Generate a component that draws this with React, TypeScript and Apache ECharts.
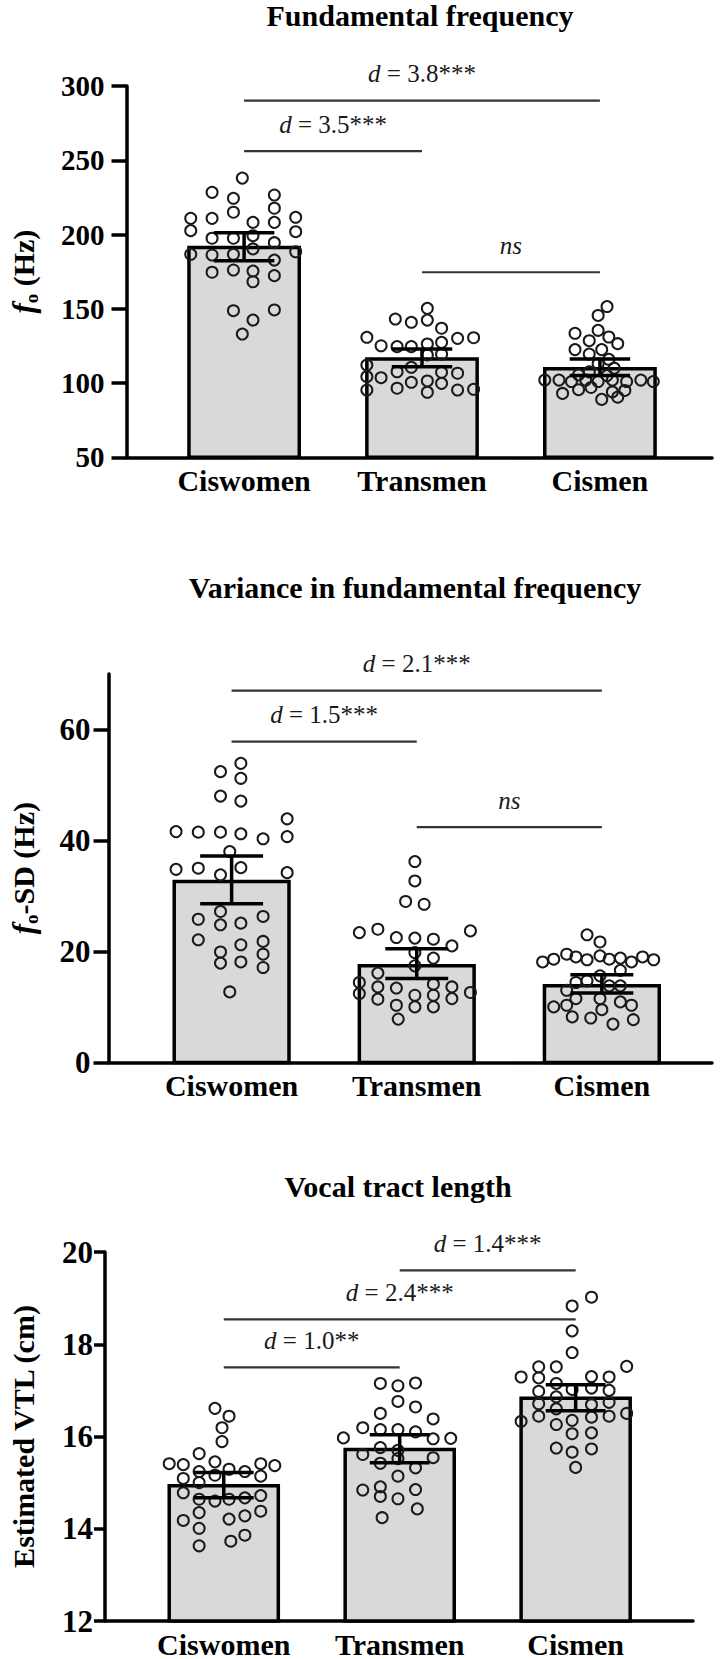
import React, { useEffect, useRef } from 'react';
import * as echarts from 'echarts';

const CATEGORIES = ['Ciswomen', 'Transmen', 'Cismen'];

// ---------------- Panel 1: Fundamental frequency ----------------
const F0_TITLE = 'Fundamental frequency';
const F0_AXIS = { min: 50, max: 300, interval: 50 };
const F0_MEAN = [191.3, 116.2, 109.6];
const F0_ERR_LOW = [182.4, 111.0, 105.0];
const F0_ERR_HIGH = [201.2, 122.9, 116.2];
const F0_CISWOMEN = [238.0, 228.4, 226.6, 224.4, 217.7, 215.0, 210.9, 210.9, 211.6, 208.2, 208.2, 202.6, 201.9, 197.5, 197.5, 199.2, 194.5, 190.3, 186.7, 186.2, 186.7, 188.4, 182.8, 174.6, 176.1, 175.4, 172.3, 168.2, 148.7, 149.2, 142.4, 133.0];
const F0_CISWOMEN_JITTER = [-0.01, -0.18, 0.17, -0.06, 0.17, -0.06, -0.30, -0.18, 0.29, 0.05, 0.17, -0.30, 0.29, -0.18, -0.06, 0.05, 0.17, 0.05, -0.30, -0.18, -0.06, 0.29, 0.17, -0.18, -0.06, 0.05, 0.17, 0.05, -0.06, 0.17, 0.05, -0.01];
const F0_TRANSMEN = [150.3, 143.1, 140.9, 142.4, 136.9, 130.8, 130.1, 130.5, 125.1, 124.5, 124.5, 126.3, 127.4, 118.9, 119.4, 112.1, 110.6, 104.3, 103.6, 107.6, 107.2, 106.6, 100.5, 101.4, 99.8, 95.3, 96.5, 93.8, 95.3, 95.8];
const F0_TRANSMEN_JITTER = [0.03, -0.15, -0.06, 0.03, 0.11, -0.31, 0.20, 0.29, -0.23, -0.14, -0.06, 0.03, 0.11, 0.03, 0.11, -0.31, -0.06, -0.31, -0.23, -0.14, 0.11, 0.20, -0.06, 0.03, 0.11, -0.31, -0.14, 0.03, 0.20, 0.29];
const F0_CISMEN = [151.5, 145.5, 135.5, 133.5, 131.0, 128.5, 126.5, 122.5, 122.5, 119.5, 116.0, 113.0, 110.0, 107.5, 105.5, 105.0, 102.0, 102.0, 101.0, 102.0, 101.0, 102.0, 101.0, 102.0, 101.0, 97.0, 95.5, 94.0, 93.0, 95.0, 90.5, 89.0];
const F0_CISMEN_JITTER = [0.04, -0.01, -0.01, -0.14, 0.05, -0.06, 0.10, -0.14, 0.01, -0.06, 0.05, -0.01, 0.08, -0.06, -0.12, 0.04, -0.31, -0.23, -0.16, -0.08, -0.01, 0.07, 0.15, 0.23, 0.30, -0.05, -0.12, 0.07, -0.21, 0.14, 0.10, 0.01];
const F0_BRACKET_FROM = [0, 0, 1];
const F0_BRACKET_TO = [2, 1, 2];
const F0_BRACKET_Y = [290.1, 256.2, 174.6];
const F0_BRACKET_LABEL = ['d = 3.8***', 'd = 3.5***', 'ns'];

// ---------------- Panel 2: Variance in fundamental frequency ----------------
const SD_TITLE = 'Variance in fundamental frequency';
const SD_AXIS = { min: 0, max: 70 };
const SD_TICKS = [0, 20, 40, 60];
const SD_MEAN = [32.6, 17.4, 13.8];
const SD_ERR_LOW = [28.6, 15.1, 12.5];
const SD_ERR_HIGH = [37.2, 20.5, 15.8];
const SD_CISWOMEN = [53.9, 52.4, 51.2, 48.0, 47.1, 43.9, 41.6, 41.5, 41.5, 41.2, 40.3, 40.7, 38.0, 34.8, 35.0, 35.1, 33.8, 34.2, 27.2, 25.8, 24.8, 25.1, 26.3, 22.1, 19.9, 21.2, 21.8, 17.9, 18.1, 19.5, 17.1, 12.7];
const SD_CISWOMEN_JITTER = [0.05, -0.06, 0.05, -0.06, 0.05, 0.30, -0.30, -0.18, -0.06, 0.05, 0.17, 0.30, -0.01, -0.30, -0.18, 0.05, -0.06, 0.30, -0.06, -0.18, -0.06, 0.05, 0.17, -0.18, -0.06, 0.05, 0.17, -0.06, 0.05, 0.17, 0.17, -0.01];
const SD_TRANSMEN = [36.2, 32.7, 29.0, 28.5, 23.4, 24.0, 22.5, 22.4, 22.2, 21.0, 23.7, 19.8, 18.8, 17.4, 16.1, 14.4, 13.6, 13.4, 14.1, 13.6, 12.4, 11.4, 12.1, 12.1, 11.5, 12.6, 10.3, 10.0, 10.0, 7.8];
const SD_TRANSMEN_JITTER = [-0.01, -0.01, -0.06, 0.04, -0.31, -0.21, -0.11, -0.01, 0.09, 0.19, 0.29, -0.01, 0.09, -0.01, -0.21, -0.31, -0.21, -0.11, 0.09, 0.19, -0.31, -0.21, -0.01, 0.09, 0.19, 0.29, -0.11, -0.01, 0.09, -0.10];
const SD_CISMEN = [23.0, 21.7, 18.1, 18.6, 19.5, 19.0, 18.5, 19.2, 18.6, 18.8, 18.1, 19.0, 18.5, 16.6, 15.6, 14.4, 14.7, 13.8, 13.8, 13.0, 11.5, 11.5, 10.9, 10.3, 10.0, 10.3, 8.2, 8.0, 6.9, 7.7, 9.5];
const SD_CISMEN_JITTER = [-0.08, -0.01, -0.32, -0.26, -0.19, -0.14, -0.08, -0.01, 0.04, 0.10, 0.16, 0.22, 0.28, 0.10, -0.01, -0.14, -0.08, 0.04, 0.10, -0.19, -0.14, -0.01, 0.10, 0.16, -0.26, -0.19, -0.16, -0.06, 0.06, 0.17, 0.00];
const SD_BRACKET_FROM = [0, 0, 1];
const SD_BRACKET_TO = [2, 1, 2];
const SD_BRACKET_Y = [67.0, 57.8, 42.4];
const SD_BRACKET_LABEL = ['d = 2.1***', 'd = 1.5***', 'ns'];

// ---------------- Panel 3: Vocal tract length ----------------
const VTL_TITLE = 'Vocal tract length';
const VTL_AXIS = { min: 12, max: 20, interval: 2 };
const VTL_MEAN = [14.93, 15.72, 16.83];
const VTL_ERR_LOW = [14.67, 15.43, 16.56];
const VTL_ERR_HIGH = [15.22, 16.04, 17.12];
const VTL_CISWOMEN = [16.61, 16.44, 16.19, 15.89, 15.63, 15.41, 15.39, 15.45, 15.29, 15.24, 15.41, 15.37, 15.24, 15.09, 15.16, 15.14, 15.00, 14.78, 14.64, 14.60, 14.64, 14.67, 14.72, 14.35, 14.18, 14.21, 14.28, 14.38, 14.01, 13.63, 13.73, 13.86];
const VTL_CISWOMEN_JITTER = [-0.05, 0.03, -0.01, -0.01, -0.14, -0.31, -0.23, -0.05, 0.03, 0.12, 0.21, 0.29, -0.14, -0.23, -0.05, 0.21, -0.14, -0.23, -0.14, -0.05, 0.03, 0.12, 0.21, -0.14, -0.23, 0.03, 0.12, 0.21, -0.14, -0.14, 0.04, 0.12];
const VTL_TRANSMEN = [17.15, 17.10, 17.16, 16.76, 16.64, 16.50, 16.38, 16.19, 16.15, 16.15, 16.10, 15.97, 15.95, 15.96, 15.76, 15.70, 15.61, 15.52, 15.54, 15.42, 15.32, 15.14, 14.84, 14.91, 14.85, 14.70, 14.65, 14.24, 14.43];
const VTL_TRANSMEN_JITTER = [-0.11, -0.01, 0.09, -0.01, 0.09, -0.11, 0.19, -0.21, -0.11, -0.01, 0.09, -0.32, 0.19, 0.29, -0.11, -0.01, -0.21, -0.01, 0.19, -0.11, 0.09, -0.01, -0.21, -0.11, 0.09, -0.11, -0.01, -0.10, 0.10];
const VTL_CISMEN = [19.02, 18.83, 18.29, 17.82, 17.52, 17.29, 17.51, 17.51, 17.27, 17.30, 17.29, 17.15, 16.98, 17.02, 17.05, 17.00, 16.86, 16.71, 16.69, 16.74, 16.60, 16.33, 16.44, 16.35, 16.42, 16.44, 16.50, 16.26, 16.06, 16.08, 15.75, 15.66, 15.73, 15.33];
const VTL_CISMEN_JITTER = [0.09, -0.02, -0.02, -0.02, 0.29, -0.31, -0.21, -0.11, -0.21, 0.09, 0.19, -0.11, -0.21, -0.02, 0.09, 0.19, -0.11, -0.21, 0.09, 0.19, -0.11, -0.31, -0.21, -0.02, 0.09, 0.19, 0.29, -0.11, -0.02, 0.09, -0.11, -0.02, 0.09, 0.00];
const VTL_BRACKET_FROM = [1, 0, 0];
const VTL_BRACKET_TO = [2, 2, 1];
const VTL_BRACKET_Y = [19.6, 18.54, 17.5];
const VTL_BRACKET_LABEL = ['d = 1.4***', 'd = 2.4***', 'd = 1.0**'];

// ---------------- Layout & style ----------------
const FONT = '"Liberation Serif", "Times New Roman", Times, serif';
const BAR_HALF = 0.31;
const CAP_HALF = 0.17;
const PANELS_LAYOUT = [
  { left: 122, width: 590, top: 86, height: 371.3, xMin: -0.661, xMax: 2.63, titleX: 420, titleY: 15, nameGap: 86, tickLen: 15, labelMargin: 22, labelSize: 29 },
  { left: 101, width: 611, top: 674, height: 388.4, xMin: -0.665, xMax: 2.595, titleX: 415, titleY: 587, nameGap: 68, tickLen: 15, labelMargin: 18, labelSize: 31 },
  { left: 99, width: 594, top: 1252, height: 370, xMin: -0.675, xMax: 2.667, titleX: 398, titleY: 1186, nameGap: 67, tickLen: 11, labelMargin: 12, labelSize: 31 },
];

type Panel = {
  title: string;
  yName: string;
  yRich: any;
  axis: any;
  customTicks?: number[];
  mean: number[];
  low: number[];
  high: number[];
  groups: number[][];
  jitter: number[][];
  bFrom: number[];
  bTo: number[];
  bY: number[];
  bLabel: string[];
};

const nameRich = {
  f: { fontFamily: FONT, fontStyle: 'italic', fontWeight: 'bold', fontSize: 31, color: '#000', lineHeight: 34 },
  s: { fontFamily: FONT, fontWeight: 'bold', fontSize: 19, color: '#000', verticalAlign: 'bottom', lineHeight: 18 },
  n: { fontFamily: FONT, fontWeight: 'bold', fontSize: 30, color: '#000', lineHeight: 34 },
};

const PANELS: Panel[] = [
  {
    title: F0_TITLE, yName: '{f|f}{s|o}{n| (Hz)}', yRich: nameRich, axis: F0_AXIS,
    mean: F0_MEAN, low: F0_ERR_LOW, high: F0_ERR_HIGH,
    groups: [F0_CISWOMEN, F0_TRANSMEN, F0_CISMEN],
    jitter: [F0_CISWOMEN_JITTER, F0_TRANSMEN_JITTER, F0_CISMEN_JITTER],
    bFrom: F0_BRACKET_FROM, bTo: F0_BRACKET_TO, bY: F0_BRACKET_Y, bLabel: F0_BRACKET_LABEL,
  },
  {
    title: SD_TITLE, yName: '{f|f}{s|o}{n|-SD (Hz)}', yRich: nameRich, axis: SD_AXIS, customTicks: SD_TICKS,
    mean: SD_MEAN, low: SD_ERR_LOW, high: SD_ERR_HIGH,
    groups: [SD_CISWOMEN, SD_TRANSMEN, SD_CISMEN],
    jitter: [SD_CISWOMEN_JITTER, SD_TRANSMEN_JITTER, SD_CISMEN_JITTER],
    bFrom: SD_BRACKET_FROM, bTo: SD_BRACKET_TO, bY: SD_BRACKET_Y, bLabel: SD_BRACKET_LABEL,
  },
  {
    title: VTL_TITLE, yName: 'Estimated VTL (cm)', yRich: nameRich, axis: VTL_AXIS,
    mean: VTL_MEAN, low: VTL_ERR_LOW, high: VTL_ERR_HIGH,
    groups: [VTL_CISWOMEN, VTL_TRANSMEN, VTL_CISMEN],
    jitter: [VTL_CISWOMEN_JITTER, VTL_TRANSMEN_JITTER, VTL_CISMEN_JITTER],
    bFrom: VTL_BRACKET_FROM, bTo: VTL_BRACKET_TO, bY: VTL_BRACKET_Y, bLabel: VTL_BRACKET_LABEL,
  },
];

function bracketText(label: string) {
  if (label === 'ns') return '{i|ns}';
  const rest = label.slice(1);
  return '{i|d}{n|' + rest + '}';
}

const annRich = {
  i: { fontFamily: FONT, fontStyle: 'italic', fontSize: 25, fill: '#1a1a1a', color: '#1a1a1a' },
  n: { fontFamily: FONT, fontSize: 25, fill: '#1a1a1a', color: '#1a1a1a' },
};

function buildOption() {
  const grid: any[] = [];
  const xAxis: any[] = [];
  const yAxis: any[] = [];
  const series: any[] = [];
  const graphic: any[] = [];

  PANELS.forEach((p, k) => {
    const L = PANELS_LAYOUT[k];
    const yMin = p.axis.min;
    grid.push({ left: L.left, width: L.width, top: L.top, height: L.height, containLabel: false });
    xAxis.push({
      gridIndex: k,
      type: 'value',
      min: L.xMin,
      max: L.xMax,
      splitLine: { show: false },
      axisTick: { show: false },
      axisLine: { show: true, onZero: false, lineStyle: { color: '#000', width: 3.5 } },
      axisLabel: {
        customValues: [0, 1, 2],
        formatter: (v: number) => CATEGORIES[Math.round(v)] ?? '',
        fontFamily: FONT,
        fontWeight: 'bold',
        fontSize: 30,
        color: '#000',
        margin: 8,
      },
    });
    const yAx: any = {
      gridIndex: k,
      type: 'value',
      min: p.axis.min,
      max: p.axis.max,
      splitLine: { show: false },
      axisLine: { show: true, onZero: false, lineStyle: { color: '#000', width: 3.5 } },
      axisTick: { show: true, length: L.tickLen, lineStyle: { color: '#000', width: 3.5 } },
      axisLabel: { fontFamily: FONT, fontWeight: 'bold', fontSize: L.labelSize, color: '#000', margin: L.labelMargin },
      name: p.yName,
      nameLocation: 'middle',
      nameRotate: 90,
      nameGap: L.nameGap,
      nameTextStyle: { fontFamily: FONT, fontWeight: 'bold', fontSize: 30, color: '#000', rich: p.yRich },
    };
    if (p.axis.interval != null) yAx.interval = p.axis.interval;
    if (p.customTicks) {
      yAx.axisLabel.customValues = p.customTicks;
      yAx.axisTick.customValues = p.customTicks;
    }
    yAxis.push(yAx);

    graphic.push({
      type: 'text',
      x: L.titleX,
      y: L.titleY,
      style: {
        text: p.title,
        fontFamily: FONT,
        fontWeight: 'bold',
        fontSize: 30,
        fill: '#000',
        textAlign: 'center',
        textVerticalAlign: 'middle',
        align: 'center',
        verticalAlign: 'middle',
      },
    });

    // bars
    series.push({
      type: 'custom',
      xAxisIndex: k,
      yAxisIndex: k,
      z: 1,
      clip: false,
      data: p.mean.map((m, i) => [i, m]),
      encode: { x: 0, y: 1 },
      renderItem: (params: any, api: any) => {
        const x = api.value(0);
        const v = api.value(1);
        const a = api.coord([x - BAR_HALF, v]);
        const b = api.coord([x + BAR_HALF, yMin]);
        return {
          type: 'rect',
          shape: { x: a[0], y: a[1], width: b[0] - a[0], height: b[1] - a[1] },
          style: { fill: '#d9d9d9', stroke: '#000', lineWidth: 3.5 },
        };
      },
    });

    // individual points
    const pts: number[][] = [];
    p.groups.forEach((vals, g) => {
      vals.forEach((v, j) => pts.push([g + p.jitter[g][j], v]));
    });
    series.push({
      type: 'scatter',
      xAxisIndex: k,
      yAxisIndex: k,
      z: 2,
      data: pts,
      symbol: 'circle',
      symbolSize: 11,
      itemStyle: { color: 'rgba(0,0,0,0)', borderColor: '#1a1a1a', borderWidth: 2, opacity: 1 },
      emphasis: { disabled: true },
    });

    // error bars
    series.push({
      type: 'custom',
      xAxisIndex: k,
      yAxisIndex: k,
      z: 3,
      clip: false,
      data: p.mean.map((_, i) => [i, p.low[i], p.high[i]]),
      encode: { x: 0, y: [1, 2] },
      renderItem: (params: any, api: any) => {
        const x = api.value(0);
        const lo = api.coord([x, api.value(1)]);
        const hi = api.coord([x, api.value(2)]);
        const l1 = api.coord([x - CAP_HALF, api.value(1)]);
        const r1 = api.coord([x + CAP_HALF, api.value(1)]);
        const l2 = api.coord([x - CAP_HALF, api.value(2)]);
        const r2 = api.coord([x + CAP_HALF, api.value(2)]);
        const st = { stroke: '#000', lineWidth: 3.5 };
        return {
          type: 'group',
          children: [
            { type: 'line', shape: { x1: lo[0], y1: lo[1], x2: hi[0], y2: hi[1] }, style: st },
            { type: 'line', shape: { x1: l1[0], y1: l1[1], x2: r1[0], y2: r1[1] }, style: st },
            { type: 'line', shape: { x1: l2[0], y1: l2[1], x2: r2[0], y2: r2[1] }, style: st },
          ],
        };
      },
    });

    // significance brackets
    series.push({
      type: 'custom',
      xAxisIndex: k,
      yAxisIndex: k,
      z: 4,
      clip: false,
      data: p.bY.map((y, i) => [p.bFrom[i], p.bTo[i], y]),
      encode: { x: [0, 1], y: 2 },
      renderItem: (params: any, api: any) => {
        const a = api.coord([api.value(0), api.value(2)]);
        const b = api.coord([api.value(1), api.value(2)]);
        return {
          type: 'group',
          children: [
            { type: 'line', shape: { x1: a[0], y1: a[1], x2: b[0], y2: b[1] }, style: { stroke: '#333', lineWidth: 2.2 } },
            {
              type: 'text',
              x: (a[0] + b[0]) / 2,
              y: a[1] - 27,
              style: {
                text: bracketText(p.bLabel[params.dataIndex]),
                rich: annRich,
                fontFamily: FONT,
                fontSize: 25,
                fill: '#1a1a1a',
                align: 'center',
                verticalAlign: 'middle',
                textAlign: 'center',
                textVerticalAlign: 'middle',
              },
            },
          ],
        };
      },
    });
  });

  return {
    animation: false,
    backgroundColor: '#ffffff',
    grid,
    xAxis,
    yAxis,
    series,
    graphic,
  };
}

export default function App() {
  const ref = useRef<HTMLDivElement>(null);
  useEffect(() => {
    if (!ref.current) return;
    const chart = echarts.init(ref.current, null, { renderer: 'svg' });
    chart.setOption(buildOption() as any);
    return () => chart.dispose();
  }, []);
  return (
    <div
      ref={ref}
      style={{ position: 'absolute', left: 0, top: 0, width: 726, height: 1659, background: '#fff' }}
    />
  );
}
